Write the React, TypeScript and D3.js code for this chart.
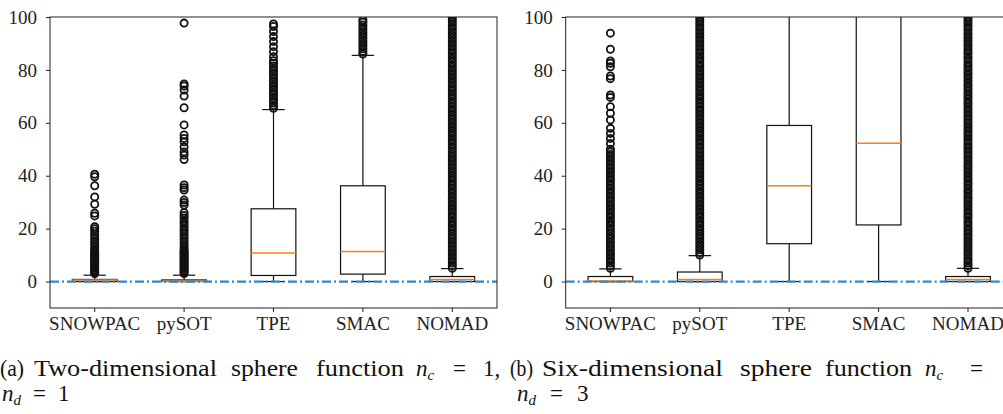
import React, { useRef, useEffect } from "react";
import * as d3 from "d3";

const methods = ["SNOWPAC", "pySOT", "TPE", "SMAC", "NOMAD"];
const yTicks = [0, 20, 40, 60, 80, 100];
const yRange = [-10, 100];

// (a) two-dimensional sphere function
const q1A = [0, 0, 2.3, 2.8, 0];
const medA = [0.6, 0.1, 10.8, 11.4, 0.8];
const q3A = [0.8, 0.6, 27.5, 36.2, 1.9];
const loA = [0, 0, 0, 0, 0];
const hiA = [2.4, 2.4, 65, 85.5, 4.9];
const outSnowpacA = [3, 3.5, 4, 4.5, 5, 5.5, 6, 6.5, 7, 7.5, 8, 8.5, 9, 9.5, 10, 10.5, 11, 11.5, 12, 13, 14, 15, 16, 17, 18, 19, 20, 20.7,
  24.8, 25.8, 29.2, 32, 36.2, 39.6, 40.6];
const outPysotA = [3, 3.5, 4, 4.5, 5, 5.5, 6, 6.5, 7, 7.5, 8, 8.5, 9, 9.5, 10, 10.5, 11, 11.5, 12, 13, 14, 15, 16, 17, 18, 19, 20,
  21, 22, 23, 24, 25, 26, 28.9, 29.9, 30.8, 34.6, 35.5, 36.5, 46.1, 47.8, 49, 50.9, 52.8, 54.1, 55.4, 59.2, 65.7, 70.1, 72.4, 73.9, 74.7, 97.7];
const outTpeA = [65.5, 66.5, 67.5, 68.5, 69.5, 70.5, 71.5, 72.5, 73.5, 74.5, 75.5, 76.5, 77.5, 78.5, 79.5, 80.5, 81.5, 82.5, 83.5,
  85, 86.9, 88.8, 90.7, 92.6, 94.5, 96.4, 97.4];
const outSmacA = [86, 87, 88, 89, 90, 91, 92, 93, 94, 95, 96, 97, 98, 98.9];
const outNomadA = [5, 6, 7, 8, 9, 10, 11, 12, 13, 14, 15, 16, 17, 18, 19, 20, 21, 22, 23, 24, 25, 26, 27, 28, 29, 30,
  31, 32, 33, 34, 35, 36, 37, 38, 39, 40, 41, 42, 43, 44, 45, 46, 47, 48, 49, 50, 51, 52, 53, 54, 55, 56, 57, 58, 59, 60,
  61, 62, 63, 64, 65, 66, 67, 68, 69, 70, 71, 72, 73, 74, 75, 76, 77, 78, 79, 80, 81, 82, 83, 84, 85, 86, 87, 88, 89, 90,
  91, 92, 93, 94, 95, 96, 97, 98, 99, 100, 101];

// (b) six-dimensional sphere function
const q1B = [0, 0, 14.3, 21.4, 0];
const medB = [0.2, 0.8, 36.2, 52.3, 0.8];
const q3B = [1.9, 3.6, 59, 115, 1.9];
const loB = [0, 0, 0, 0, 0];
const hiB = [4.8, 9.8, 130, 170, 5];
const outSnowpacB = [5, 6, 7, 8, 9, 10, 11, 12, 13, 14, 15, 16, 17, 18, 19, 20, 21, 22, 23, 24, 25, 26, 27, 28, 29, 30,
  31, 32, 33, 34, 35, 36, 37, 38, 39, 40, 41, 42, 43, 44, 45, 46, 47, 48, 49, 50,
  52.2, 54.1, 56, 57.9, 61.1, 63.6, 66.1, 69.6, 70.5, 76.7, 77.7, 81.2, 82.5, 83.4, 87.8, 93.9];
const outPysotB = [10, 11, 12, 13, 14, 15, 16, 17, 18, 19, 20, 21, 22, 23, 24, 25, 26, 27, 28, 29, 30,
  31, 32, 33, 34, 35, 36, 37, 38, 39, 40, 41, 42, 43, 44, 45, 46, 47, 48, 49, 50, 51, 52, 53, 54, 55, 56, 57, 58, 59, 60,
  61, 62, 63, 64, 65, 66, 67, 68, 69, 70, 71, 72, 73, 74, 75, 76, 77, 78, 79, 80, 81, 82, 83, 84, 85, 86, 87, 88, 89, 90,
  91, 92, 93, 94, 95, 96, 97, 98, 99, 100, 101];
const outTpeB: number[] = [];
const outSmacB: number[] = [];
const outNomadB = [5, 6, 7, 8, 9, 10, 11, 12, 13, 14, 15, 16, 17, 18, 19, 20, 21, 22, 23, 24, 25, 26, 27, 28, 29, 30,
  31, 32, 33, 34, 35, 36, 37, 38, 39, 40, 41, 42, 43, 44, 45, 46, 47, 48, 49, 50, 51, 52, 53, 54, 55, 56, 57, 58, 59, 60,
  61, 62, 63, 64, 65, 66, 67, 68, 69, 70, 71, 72, 73, 74, 75, 76, 77, 78, 79, 80, 81, 82, 83, 84, 85, 86, 87, 88, 89, 90,
  91, 92, 93, 94, 95, 96, 97, 98, 99, 100, 101];

const W = 1003, H = 414;
const TOP = 17, BOTTOM = 308;
const FONT = "Liberation Serif, Times New Roman, serif";

type Stats = { q1: number[]; med: number[]; q3: number[]; lo: number[]; hi: number[]; out: number[][] };

const panels: { id: string; x0: number; x1: number; s: Stats }[] = [
  { id: "a", x0: 50, x1: 497, s: { q1: q1A, med: medA, q3: q3A, lo: loA, hi: hiA, out: [outSnowpacA, outPysotA, outTpeA, outSmacA, outNomadA] } },
  { id: "b", x0: 565.7, x1: 1012.7, s: { q1: q1B, med: medB, q3: q3B, lo: loB, hi: hiB, out: [outSnowpacB, outPysotB, outTpeB, outSmacB, outNomadB] } },
];

export default function App() {
  const ref = useRef<SVGSVGElement>(null);

  useEffect(() => {
    const svg = d3.select(ref.current);
    svg.selectAll("g.panel").remove();

    const y = d3.scaleLinear().domain(yRange).range([BOTTOM, TOP]);

    panels.forEach(p => {
      const x = d3.scaleBand().domain(methods).range([p.x0, p.x1]).padding(0);
      const halfBox = x.bandwidth() * 0.25;   // box width = 0.5 of a slot
      const halfCap = x.bandwidth() * 0.125;  // caps are half the box width
      const cx = (m: string) => (x(m) as number) + x.bandwidth() / 2;

      const g = svg.append("g").attr("class", "panel");
      g.append("clipPath").attr("id", "clip-" + p.id)
        .append("rect").attr("x", p.x0).attr("y", TOP).attr("width", p.x1 - p.x0).attr("height", BOTTOM - TOP);

      const plot = g.append("g").attr("clip-path", `url(#clip-${p.id})`);

      methods.forEach((m, i) => {
        const c = cx(m);
        const b = plot.append("g").attr("stroke", "#111").attr("stroke-width", 1.2).attr("fill", "none");
        // whiskers
        b.append("line").attr("x1", c).attr("x2", c).attr("y1", y(p.s.q1[i])).attr("y2", y(p.s.lo[i]));
        b.append("line").attr("x1", c).attr("x2", c).attr("y1", y(p.s.q3[i])).attr("y2", y(p.s.hi[i]));
        // caps
        b.append("line").attr("x1", c - halfCap).attr("x2", c + halfCap).attr("y1", y(p.s.lo[i])).attr("y2", y(p.s.lo[i]));
        b.append("line").attr("x1", c - halfCap).attr("x2", c + halfCap).attr("y1", y(p.s.hi[i])).attr("y2", y(p.s.hi[i]));
        // box
        b.append("rect").attr("x", c - halfBox).attr("width", 2 * halfBox)
          .attr("y", y(p.s.q3[i])).attr("height", y(p.s.q1[i]) - y(p.s.q3[i]));
        // median
        plot.append("line").attr("x1", c - halfBox).attr("x2", c + halfBox)
          .attr("y1", y(p.s.med[i])).attr("y2", y(p.s.med[i]))
          .attr("stroke", "#ff7f0e").attr("stroke-width", 1.5);
        // fliers
        plot.append("g").selectAll("circle").data(p.s.out[i]).enter().append("circle")
          .attr("cx", c).attr("cy", d => y(d)).attr("r", 3.6)
          .attr("fill", "none").attr("stroke", "#111").attr("stroke-width", 1.8);
      });

      // reference line at zero
      plot.append("line").attr("x1", p.x0).attr("x2", p.x1).attr("y1", y(0)).attr("y2", y(0))
        .attr("stroke", "#3a86c4").attr("stroke-width", 2.2)
        .attr("stroke-dasharray", "9,3,2,3");

      // axes
      const ya = g.append("g").attr("transform", `translate(${p.x0},0)`)
        .call(d3.axisLeft(y).tickValues(yTicks).tickSize(4).tickPadding(9).tickFormat(d3.format("d")));
      const xa = g.append("g").attr("transform", `translate(0,${BOTTOM})`)
        .call(d3.axisBottom(x).tickSize(4).tickPadding(4.5));
      [ya, xa].forEach(a => {
        a.attr("font-family", FONT).attr("font-size", 19);
        a.select(".domain").remove();
        a.selectAll("line").attr("stroke", "#222");
        a.selectAll("text").attr("fill", "#222");
      });

      g.append("rect").attr("x", p.x0).attr("y", TOP).attr("width", p.x1 - p.x0).attr("height", BOTTOM - TOP)
        .attr("fill", "none").attr("stroke", "#222").attr("stroke-width", 1);
    });
  }, []);

  const words = (list: [string, number, number][], yy: number) =>
    list.map(([t, a, b]) => (
      <text key={t + a} x={a} y={yy} textLength={b - a} lengthAdjust="spacingAndGlyphs">{t}</text>
    ));

  const mathN = (xx: number, yy: number, sub: string) => (
    <text x={xx} y={yy} fontStyle="italic">n<tspan dy={4} fontSize={15}>{sub}</tspan></text>
  );

  return (
    <div style={{ position: "absolute", left: 0, top: 0 }}>
      <svg ref={ref} width={W} height={H} style={{ display: "block", background: "#fff" }}>
        <g fontFamily={FONT} fontSize={23} fill="#111">
          {words([["(a)", 0, 24], ["Two-dimensional", 34, 217], ["sphere", 231, 298], ["function", 316, 404]], 376)}
          {mathN(416, 376, "c")}
          <text x={453} y={376}>=</text>
          <text x={483} y={376}>1,</text>
          {mathN(2, 401, "d")}
          <text x={33} y={401}>=</text>
          <text x={58} y={401}>1</text>

          {words([["(b)", 510, 533], ["Six-dimensional", 542, 723], ["sphere", 740, 812], ["function", 825, 912]], 376)}
          {mathN(925, 376, "c")}
          <text x={970} y={376}>=</text>
          {mathN(517, 401, "d")}
          <text x={550} y={401}>=</text>
          <text x={577} y={401}>3</text>
        </g>
      </svg>
    </div>
  );
}
